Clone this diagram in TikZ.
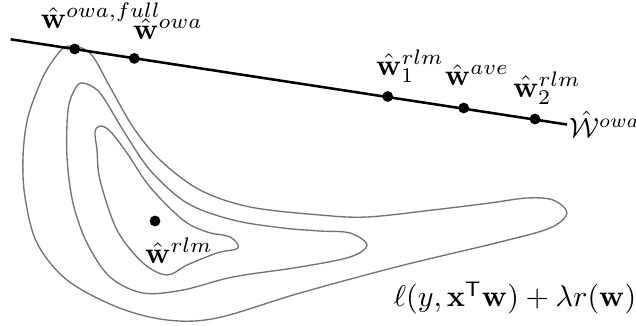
\documentclass[tikz,border=0pt]{standalone}
\usepackage{amsmath}
\begin{document}
\begin{tikzpicture}[x=0.3333pt,y=-0.3333pt,
  contour/.style={draw=black!55,line width=0.45pt},
  wline/.style={draw=black,line width=0.85pt},
  dot/.style={circle,fill=black,inner sep=0pt,minimum size=3.6pt},
  lbl/.style={inner sep=0pt}]
\useasboundingbox (0,0) rectangle (636,326);
% contours
\draw[contour] plot[smooth cycle,tension=0.55] coordinates {
 (68,46) (90,53) (110,87) (133,127) (160,160) (200,190) (250,207) (320,215)
 (367,217) (433,210) (490,203) (527,198) (553,200) (567,213) (550,228) (500,242)
 (400,266) (300,293) (217,318) (167,320) (117,307) (67,280) (37,243) (25,197)
 (23,157) (28,117) (43,77) (57,55)};
\draw[contour] plot[smooth cycle,tension=0.55] coordinates {
 (83,83) (100,93) (123,130) (150,170) (187,203) (233,220) (283,228) (320,231)
 (350,233) (367,245) (350,257) (300,267) (233,277) (183,290) (143,293) (110,277)
 (87,243) (73,203) (67,157) (68,110) (75,89)};
\draw[contour] plot[smooth cycle,tension=0.55] coordinates {
 (100,126) (110,131) (127,153) (150,187) (183,220) (207,232) (230,237) (238,248)
 (217,253) (187,265) (167,275) (143,263) (117,230) (100,180) (97,150) (95,132)};
% line
\coordinate (L0) at (10.7,39.3);
\node[lbl,anchor=west,inner sep=0.6pt,scale=0.93] (W) at (567,124.5) {$\hat{\mathcal{W}}^{owa}$};
\draw[wline] (L0) -- (W.west);
% dots
\node[dot] (d1) at (74.7,49) {};
\node[dot] (d2) at (134.3,58.4) {};
\node[dot] (d3) at (387.7,96.5) {};
\node[dot] (d4) at (463.7,108) {};
\node[dot] (d5) at (535,119) {};
\node[dot] (d6) at (155,221) {};
% labels
\node[lbl] (t1) at (101,16) {$\hat{\mathbf{w}}^{owa,full}$};
\node[lbl] (t2) at (168,29) {$\hat{\mathbf{w}}^{owa}$};
\node[lbl] (t3) at (410,66) {$\hat{\mathbf{w}}_1^{rlm}$};
\node[lbl] (t4) at (477,75) {$\hat{\mathbf{w}}^{ave}$};
\node[lbl] (t5) at (547,88) {$\hat{\mathbf{w}}_2^{rlm}$};
\node[lbl] (t6) at (179,251) {$\hat{\mathbf{w}}^{rlm}$};
\node[lbl] (f) at (515,298) {$\ell(y,\mathbf{x}^{\mathsf{T}}\mathbf{w})+\lambda r(\mathbf{w})$};
\end{tikzpicture}
\end{document}
